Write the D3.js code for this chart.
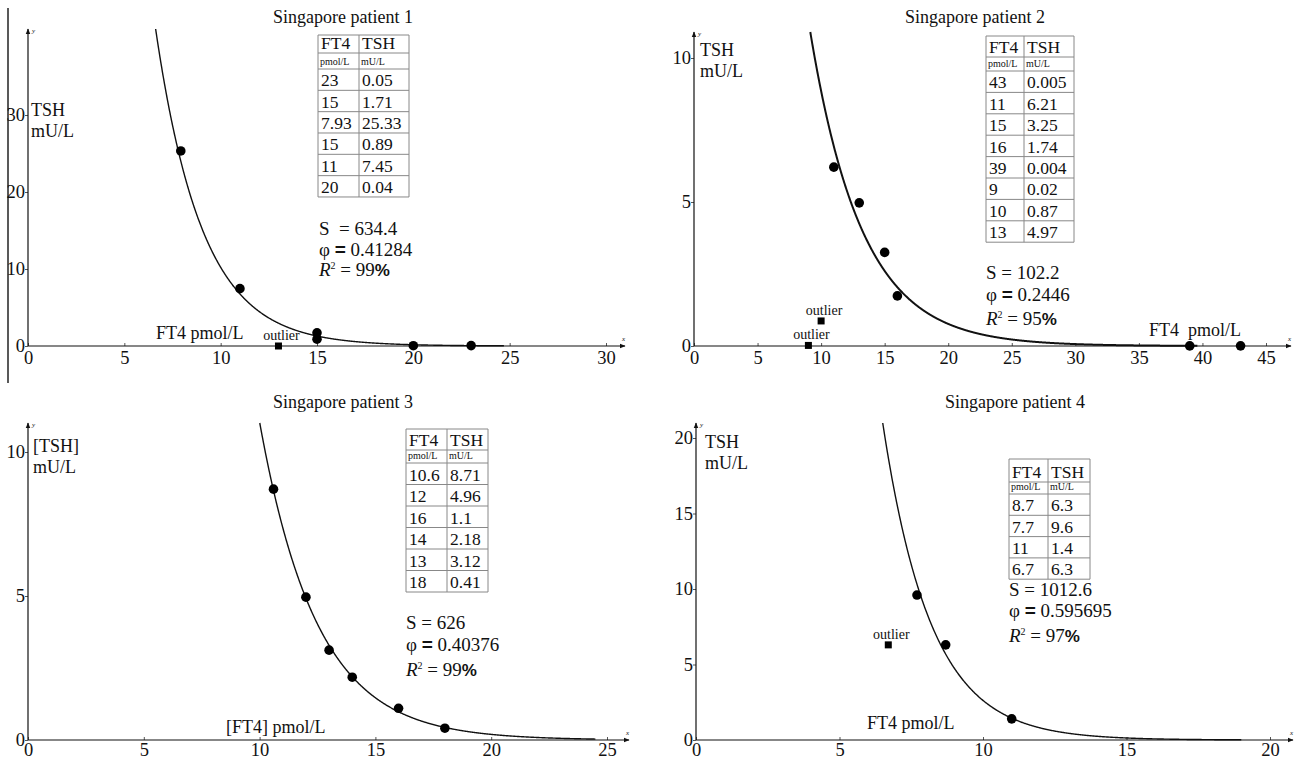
<!DOCTYPE html>
<html>
<head>
<meta charset="utf-8">
<script src="https://cdn.jsdelivr.net/npm/d3@7"></script>
<style>
  body { margin: 0; background: #fff; }
  text { font-family: "Liberation Serif", "Times New Roman", serif; fill: #111; }
</style>
</head>
<body>
<div id="chart"></div>
<script>
// define SVG size
var svgWidth = 1298;
var svgHeight = 759;
var serif = '"Liberation Serif", "Times New Roman", serif';
var sans = '"Liberation Sans", Arial, sans-serif';

// ---- data ----
var titles = ["Singapore patient 1", "Singapore patient 2", "Singapore patient 3", "Singapore patient 4"];

// table rows (FT4 pmol/L, TSH mU/L) and outlier flags
var p1FT4 = [23, 15, 7.93, 15, 11, 20];
var p1TSH = [0.05, 1.71, 25.33, 0.89, 7.45, 0.04];
var p1Out = [0, 0, 0, 0, 0, 0];
var p1ExtraFT4 = [13];
var p1ExtraTSH = [0];

var p2FT4 = [43, 11, 15, 16, 39, 9, 10, 13];
var p2TSH = [0.005, 6.21, 3.25, 1.74, 0.004, 0.02, 0.87, 4.97];
var p2Out = [0, 0, 0, 0, 0, 1, 1, 0];

var p3FT4 = [10.6, 12, 16, 14, 13, 18];
var p3TSH = [8.71, 4.96, 1.1, 2.18, 3.12, 0.41];
var p3Out = [0, 0, 0, 0, 0, 0];

var p4FT4 = [8.7, 7.7, 11, 6.7];
var p4TSH = [6.3, 9.6, 1.4, 6.3];
var p4Out = [0, 0, 0, 1];

// fitted model TSH = S * exp(-phi * FT4)
var fitS = [634.4, 102.2, 626, 1012.6];
var fitSText = ["S  = 634.4", "S = 102.2", "S = 626", "S = 1012.6"];
var fitPhi = [0.41284, 0.2446, 0.40376, 0.595695];
var fitR2 = [99, 95, 99, 97];

// axis ticks
var xTicks = [[0, 5, 10, 15, 20, 25, 30], [0, 5, 10, 15, 20, 25, 30, 35, 40, 45], [0, 5, 10, 15, 20, 25], [0, 5, 10, 15, 20]];
var yTicks = [[0, 10, 20, 30], [0, 5, 10], [0, 5, 10], [0, 5, 10, 15, 20]];
var yNames = ["TSH", "TSH", "[TSH]", "TSH"];
var xNames = ["FT4 pmol/L", "FT4  pmol/L", "[FT4] pmol/L", "FT4 pmol/L"];

var tableFT4 = [p1FT4, p2FT4, p3FT4, p4FT4];
var tableTSH = [p1TSH, p2TSH, p3TSH, p4TSH];
var outFlags = [p1Out, p2Out, p3Out, p4Out];

// ---- layout of each panel (pixels) ----
var layout = [
  { xr: [28, 606], xMax: 30, xEnd: 625, yr: [346, 115], yMax: 30, yTop: 29, curveEnd: 24.7, tickPad: 5,
    table: { left: 318, div: 359, right: 409, top: 35, head: 53, unit: 69, rowH: 21.33 },
    stats: { x: 319, y: [235, 256, 276] }, ylab: { x: 31, y: 116 }, xlab: { x: 156, y: 339 },
    title: { x: 343, y: 23 }, curveW: 1.4 },
  { xr: [694, 1266], xMax: 45, xEnd: 1291, yr: [346, 58], yMax: 10, yTop: 32, curveEnd: 39.6, tickPad: 5,
    table: { left: 986, div: 1024, right: 1074, top: 36, head: 57, unit: 71, rowH: 21.4 },
    stats: { x: 986, y: [279, 301, 325] }, ylab: { x: 700, y: 56 }, xlab: { x: 1149, y: 336 },
    title: { x: 975, y: 23 }, curveW: 2 },
  { xr: [28, 607], xMax: 25, xEnd: 629, yr: [740, 452], yMax: 10, yTop: 423, curveEnd: 24.5, tickPad: 3,
    table: { left: 406, div: 447, right: 488, top: 429, head: 450, unit: 463, rowH: 21.5 },
    stats: { x: 406, y: [629, 651, 676] }, ylab: { x: 33, y: 452 }, xlab: { x: 226, y: 733 },
    title: { x: 343, y: 408 }, curveW: 1.4 },
  { xr: [696, 1270], xMax: 20, xEnd: 1293, yr: [740, 438], yMax: 20, yTop: 423, curveEnd: 19, tickPad: 3,
    table: { left: 1009, div: 1048, right: 1090, top: 459, head: 482, unit: 494, rowH: 21.3 },
    stats: { x: 1009, y: [596, 617, 642] }, ylab: { x: 705, y: 448 }, xlab: { x: 867, y: 729 },
    title: { x: 1015, y: 408 }, curveW: 1.4 }
];

var svg = d3.select("#chart")
  .append("svg")
  .attr("width", svgWidth)
  .attr("height", svgHeight);

var defs = svg.append("defs");
defs.append("marker")
  .attr("id", "arrow")
  .attr("viewBox", "0 0 10 10")
  .attr("refX", 9).attr("refY", 5)
  .attr("markerWidth", 5).attr("markerHeight", 5)
  .attr("orient", "auto")
  .append("path")
  .attr("d", "M0,1 L10,5 L0,9 Z")
  .attr("fill", "#111");

// left frame line
svg.append("line")
  .attr("x1", 8).attr("x2", 8)
  .attr("y1", 8).attr("y2", 383)
  .attr("stroke", "#222").attr("stroke-width", 1.5);

layout.forEach(function(L, i) {
  var g = svg.append("g");

  var xScale = d3.scaleLinear().domain([0, L.xMax]).range(L.xr);
  var yScale = d3.scaleLinear().domain([0, L.yMax]).range(L.yr);

  // title
  g.append("text")
    .attr("x", L.title.x).attr("y", L.title.y)
    .attr("text-anchor", "middle")
    .style("font-family", serif)
    .style("font-size", "18px")
    .text(titles[i]);

  // axes
  var bottomAxis = d3.axisBottom(xScale).tickValues(xTicks[i]).tickSizeInner(-3).tickSizeOuter(0).tickPadding(L.tickPad);
  var leftAxis = d3.axisLeft(yScale).tickValues(yTicks[i]).tickSizeInner(3).tickSizeOuter(0).tickPadding(0);

  var xAxisG = g.append("g").attr("transform", `translate(0, ${L.yr[0]})`).call(bottomAxis);
  var yAxisG = g.append("g").attr("transform", `translate(${L.xr[0]}, 0)`).call(leftAxis);
  [xAxisG, yAxisG].forEach(function(a) {
    a.attr("font-family", null).attr("font-size", null);
    a.select(".domain").remove();
    a.selectAll(".tick line").attr("stroke", "#555");
    a.selectAll(".tick text")
      .style("font-family", serif)
      .style("font-size", "18.5px")
      .attr("fill", "#111");
  });

  // axis lines with arrows
  g.append("line")
    .attr("x1", L.xr[0]).attr("x2", L.xEnd)
    .attr("y1", L.yr[0]).attr("y2", L.yr[0])
    .attr("stroke", "#111").attr("stroke-width", 1.2)
    .attr("marker-end", "url(#arrow)");
  g.append("line")
    .attr("x1", L.xr[0]).attr("x2", L.xr[0])
    .attr("y1", L.yr[0]).attr("y2", L.yTop)
    .attr("stroke", "#111").attr("stroke-width", 1.2)
    .attr("marker-end", "url(#arrow)");
  g.append("text").attr("x", L.xEnd - 3).attr("y", L.yr[0] - 5)
    .style("font-size", "7px").style("font-style", "italic").text("x");
  g.append("text").attr("x", L.xr[0] + 4).attr("y", L.yTop + 4)
    .style("font-size", "7px").style("font-style", "italic").text("y");

  // axis names
  g.append("text").attr("x", L.ylab.x).attr("y", L.ylab.y)
    .style("font-family", serif).style("font-size", "18px").text(yNames[i]);
  g.append("text").attr("x", L.ylab.x).attr("y", L.ylab.y + 21)
    .style("font-family", serif).style("font-size", "18px").text("mU/L");
  g.append("text").attr("x", L.xlab.x).attr("y", L.xlab.y)
    .style("font-family", serif).style("font-size", "18px").style("white-space", "pre")
    .text(xNames[i]);

  // fitted curve
  var S = fitS[i], phi = fitPhi[i];
  var yTopVal = yScale.invert(L.yTop);
  var xStart = Math.log(S / yTopVal) / phi;
  var curveX = d3.range(xStart, L.curveEnd, 0.02).concat([L.curveEnd]);
  var line = d3.line()
    .x(function(d) { return xScale(d); })
    .y(function(d) { return yScale(S * Math.exp(-phi * d)); });
  g.append("path")
    .datum(curveX)
    .attr("d", line)
    .attr("fill", "none")
    .attr("stroke", "#111")
    .attr("stroke-width", L.curveW);

  // points
  var pts = tableFT4[i].map(function(v, k) {
    return { ft4: v, tsh: tableTSH[i][k], out: outFlags[i][k] };
  });
  if (i === 0) {
    p1ExtraFT4.forEach(function(v, k) { pts.push({ ft4: v, tsh: p1ExtraTSH[k], out: 1 }); });
  }

  g.selectAll(".dot")
    .data(pts.filter(function(d) { return !d.out; }))
    .enter().append("circle")
    .attr("cx", function(d) { return xScale(d.ft4); })
    .attr("cy", function(d) { return yScale(d.tsh); })
    .attr("r", 4.8)
    .attr("fill", "#000");

  var outs = pts.filter(function(d) { return d.out; });
  g.selectAll(".out")
    .data(outs)
    .enter().append("rect")
    .attr("x", function(d) { return xScale(d.ft4) - 3.5; })
    .attr("y", function(d) { return yScale(d.tsh) - 3.5; })
    .attr("width", 7).attr("height", 7)
    .attr("fill", "#000");
  g.selectAll(".outlab")
    .data(outs)
    .enter().append("text")
    .attr("x", function(d) { return xScale(d.ft4) + 3; })
    .attr("y", function(d) { return yScale(d.tsh) - 6; })
    .attr("text-anchor", "middle")
    .style("font-family", serif)
    .style("font-size", "14px")
    .text("outlier");

  // data table
  var T = L.table;
  var tg = g.append("g").style("font-family", serif);
  var nRows = tableFT4[i].length;
  var bottom = T.unit + nRows * T.rowH;
  var hLines = [T.top, T.head, T.unit];
  for (var r = 1; r <= nRows; r++) hLines.push(T.unit + r * T.rowH);
  tg.selectAll(".hl").data(hLines).enter().append("line")
    .attr("x1", T.left).attr("x2", T.right)
    .attr("y1", function(d) { return d; }).attr("y2", function(d) { return d; })
    .attr("stroke", "#888").attr("stroke-width", 1);
  tg.selectAll(".vl").data([T.left, T.div, T.right]).enter().append("line")
    .attr("x1", function(d) { return d; }).attr("x2", function(d) { return d; })
    .attr("y1", T.top).attr("y2", bottom)
    .attr("stroke", "#888").attr("stroke-width", 1);

  tg.append("text").attr("x", T.left + 3).attr("y", T.head - 4).style("font-size", "17.5px").text("FT4");
  tg.append("text").attr("x", T.div + 3).attr("y", T.head - 4).style("font-size", "17.5px").text("TSH");
  tg.append("text").attr("x", T.left + 2).attr("y", T.unit - 4).style("font-size", "10px").text("pmol/L");
  tg.append("text").attr("x", T.div + 2).attr("y", T.unit - 4).style("font-size", "10px").text("mU/L");
  tableFT4[i].forEach(function(v, k) {
    var by = T.unit + (k + 1) * T.rowH - 4;
    tg.append("text").attr("x", T.left + 3).attr("y", by).style("font-size", "17.5px").text(v);
    tg.append("text").attr("x", T.div + 3).attr("y", by).style("font-size", "17.5px").text(tableTSH[i][k]);
  });

  // fit statistics
  var st = L.stats;
  var sg = g.append("g").style("font-family", serif);
  sg.append("text").attr("x", st.x).attr("y", st.y[0])
    .style("font-size", "19px").style("white-space", "pre")
    .text(fitSText[i]);
  var phiT = sg.append("text").attr("x", st.x).attr("y", st.y[1]).style("font-size", "19px")
    .style("white-space", "pre");
  phiT.append("tspan").text("\u03C6 ");
  phiT.append("tspan").style("font-family", sans).style("font-weight", "bold").text("=");
  phiT.append("tspan").text(" " + fitPhi[i]);
  var r2T = sg.append("text").attr("x", st.x).attr("y", st.y[2]).style("font-size", "19px")
    .style("white-space", "pre");
  r2T.append("tspan").style("font-style", "italic").text("R");
  r2T.append("tspan").attr("dy", -7).style("font-size", "10px").text("2");
  r2T.append("tspan").attr("dy", 7).text(" = " + fitR2[i]);
  r2T.append("tspan").style("font-family", sans).style("font-weight", "bold").style("font-size", "17px").text("%");
});
</script>
</body>
</html>
